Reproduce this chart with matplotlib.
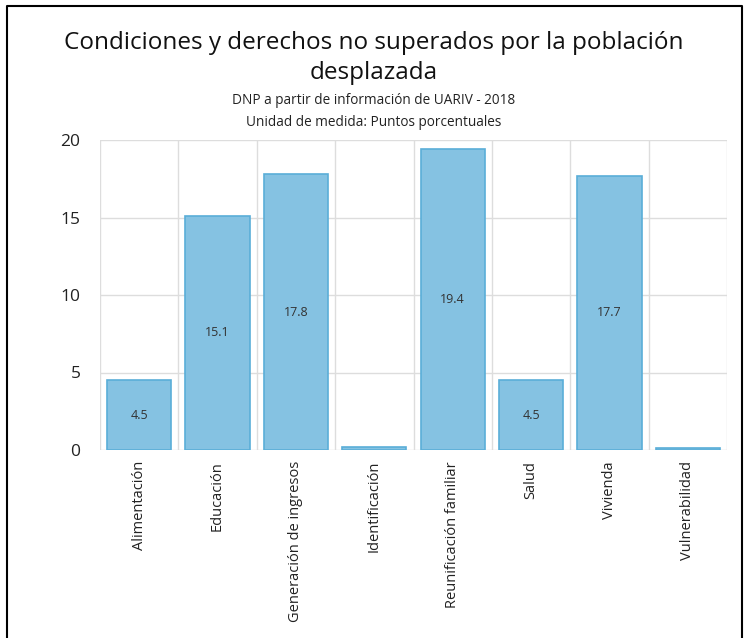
import matplotlib as mpl
mpl.use("Agg")
import matplotlib.pyplot as plt
from matplotlib.lines import Line2D
import numpy as np

# Data
categorias = ["Alimentación", "Educación", "Generación de ingresos", "Identificación",
              "Reunificación familiar", "Salud", "Vivienda", "Vulnerabilidad"]
valores = [4.5, 15.1, 17.8, 0.2, 19.4, 4.5, 17.7, 0.1]
etiquetas = ["4.5", "15.1", "17.8", "", "19.4", "4.5", "17.7", ""]
y_ticks = [0, 5, 10, 15, 20]

plt.rcParams['font.family'] = ['Open Sans', 'DejaVu Sans']

fig = plt.figure(figsize=(7.48, 6.38), dpi=100)
ax = fig.add_axes([100/748, 1 - 450/638, 627/748, 310/638])

x = np.arange(len(categorias))
ax.bar(x, valores, width=0.82, color='#85c2e2', edgecolor='#5aaed8', linewidth=1.2, zorder=3)
for xi, v, lab in zip(x, valores, etiquetas):
    if lab:
        ax.text(xi, v / 2, lab, ha='center', va='center', fontsize=9, color='#333333', zorder=4)

ax.set_xlim(-0.5, len(categorias) - 0.5)
ax.set_ylim(0, 20)
ax.set_yticks(y_ticks)
ax.set_yticklabels([str(t) for t in y_ticks], fontsize=12.5, color='#222222')
ax.set_xticks(x)
ax.set_xticklabels(categorias, rotation=90, fontsize=10.5, color='#222222')
ax.set_xticks(np.arange(-0.5, len(categorias)), minor=True)
ax.tick_params(axis='both', which='both', length=0)
ax.tick_params(axis='y', pad=14)
ax.tick_params(axis='x', pad=8)
ax.grid(True, axis='y', color='#dddddd', linewidth=1, zorder=0)
ax.grid(True, axis='x', which='minor', color='#dddddd', linewidth=1, zorder=0)
ax.grid(False, axis='x', which='major')
for s in ax.spines.values():
    s.set_visible(False)

fig.text(0.5, 1 - 43/638, "Condiciones y derechos no superados por la población",
         ha='center', va='center', fontsize=17.5, color='#111111')
fig.text(0.5, 1 - 73/638, "desplazada", ha='center', va='center', fontsize=17.5, color='#111111')
fig.text(0.5, 1 - 101/638, "DNP a partir de información de UARIV - 2018",
         ha='center', va='center', fontsize=9.8, color='#222222')
fig.text(0.5, 1 - 123/638, "Unidad de medida: Puntos porcentuales",
         ha='center', va='center', fontsize=9.8, color='#222222')

# marco exterior (izquierda, arriba, derecha)
fig.add_artist(Line2D([7/748, 7/748, 742/748, 742/748], [0, 1 - 6/638, 1 - 6/638, 0],
                      color='black', linewidth=1.5, transform=fig.transFigure))

plt.savefig("out.png", dpi=100)
